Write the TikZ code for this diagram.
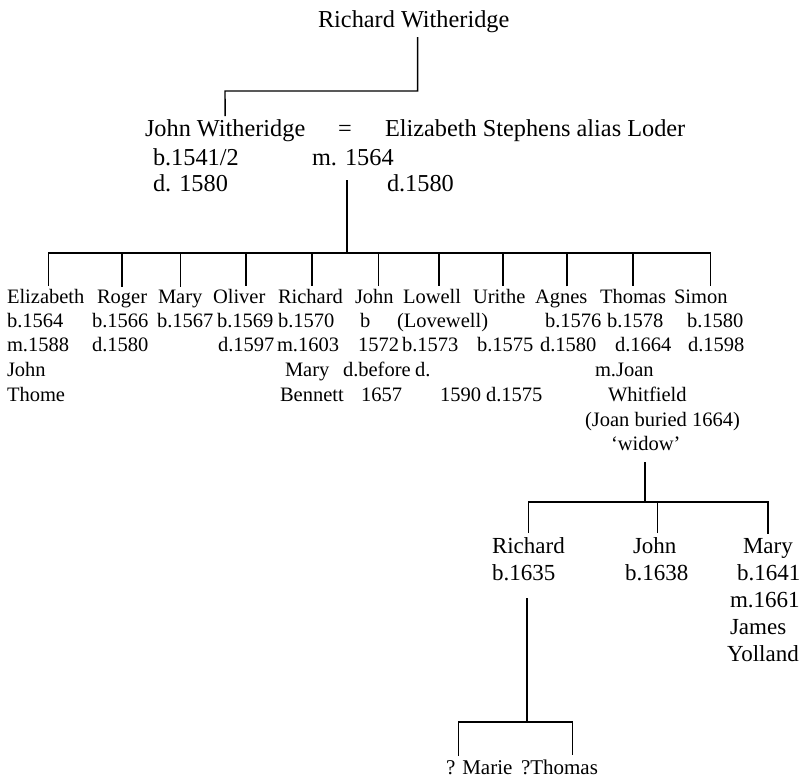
\documentclass[tikz,border=0pt]{standalone}
\usepackage{fontspec}
\setmainfont{Liberation Serif}
\begin{document}
\begin{tikzpicture}[x=1pt,y=-1pt,line width=1.4pt,
  txt/.style={inner sep=0pt,outer xsep=0pt,outer ysep=4pt,anchor=base west},
  elder/.style={txt,font=\fontsize{24.3}{28}\selectfont},
  kid/.style={txt,font=\fontsize{20.5}{24}\selectfont},
  grand/.style={txt,font=\fontsize{23}{27}\selectfont},
  great/.style={txt,font=\fontsize{21}{25}\selectfont}]
  \useasboundingbox (0,0) rectangle (804,778);

  % Richard and John's marriage
  \node[elder] (rw) at (318,28) {Richard Witheridge};
  \node[elder] (jw) at (145,137) {John Witheridge};
  \node[elder] (eq) at (338,137) {=};
  \node[elder] (es) at (385,137) {Elizabeth Stephens alias Loder};
  \node[elder] (jw-b) at (153,166) {b.1541/2};
  \node[elder] (marr) at (312,166) {m. 1564};
  \node[elder] (jw-d) at (153,192) {d. 1580};
  \node[elder] (es-d) at (387,192) {d.1580};

  % their children
  \node[kid] (elizabeth) at (7,304) {Elizabeth};
  \node[kid] (elizabeth-b) at (7,328) {b.1564};
  \node[kid] (elizabeth-m) at (7,352) {m.1588};
  \node[kid] (elizabeth-h1) at (7,377) {John};
  \node[kid] (elizabeth-h2) at (7,401) {Thome};
  \node[kid] (roger) at (97,304) {Roger};
  \node[kid] (roger-b) at (92,328) {b.1566};
  \node[kid] (roger-d) at (92,352) {d.1580};
  \node[kid] (mary) at (158,304) {Mary};
  \node[kid] (mary-b) at (157,328) {b.1567};
  \node[kid] (oliver) at (213,304) {Oliver};
  \node[kid] (oliver-b) at (217,328) {b.1569};
  \node[kid] (oliver-d) at (218,352) {d.1597};
  \node[kid] (richard) at (278,304) {Richard};
  \node[kid] (richard-b) at (278,328) {b.1570};
  \node[kid] (richard-m) at (277,352) {m.1603};
  \node[kid] (richard-w1) at (285,377) {Mary};
  \node[kid] (richard-w2) at (280,401) {Bennett};
  \node[kid] (john) at (355,304) {John};
  \node[kid] (john-b1) at (360,328) {b};
  \node[kid] (john-b2) at (358,352) {1572};
  \node[kid] (john-d1) at (343,377) {d.before};
  \node[kid] (john-d2) at (361,401) {1657};
  \node[kid] (lowell) at (403,304) {Lowell};
  \node[kid] (lowell-alt) at (397,328) {(Lovewell)};
  \node[kid] (lowell-b) at (402,352) {b.1573};
  \node[kid] (lowell-d1) at (415,377) {d.};
  \node[kid] (lowell-d2) at (440,401) {1590};
  \node[kid] (urithe) at (473,304) {Urithe};
  \node[kid] (urithe-b) at (477,352) {b.1575};
  \node[kid] (urithe-d) at (486,401) {d.1575};
  \node[kid] (agnes) at (535,304) {Agnes};
  \node[kid] (agnes-b) at (545,328) {b.1576};
  \node[kid] (agnes-d) at (540,352) {d.1580};
  \node[kid] (thomas) at (600,304) {Thomas};
  \node[kid] (thomas-b) at (607,328) {b.1578};
  \node[kid] (thomas-d) at (615,352) {d.1664};
  \node[kid] (thomas-m) at (595,377) {m.Joan};
  \node[kid] (thomas-w) at (608,401) {Whitfield};
  \node[kid] (joan) at (585,426) {(Joan buried 1664)};
  \node[kid] (widow) at (611,450) {`widow'};
  \node[kid] (simon) at (674,304) {Simon};
  \node[kid] (simon-b) at (687,328) {b.1580};
  \node[kid] (simon-d) at (688,352) {d.1598};

  % Thomas and Joan's children
  \node[grand] (richard2) at (492,553) {Richard};
  \node[grand] (richard2-b) at (492,580) {b.1635};
  \node[grand] (john2) at (633,553) {John};
  \node[grand] (john2-b) at (625,580) {b.1638};
  \node[grand] (mary2) at (743,553) {Mary};
  \node[grand] (mary2-b) at (737,580) {b.1641};
  \node[grand] (mary2-m) at (730,607) {m.1661};
  \node[grand] (mary2-h1) at (730,634) {James};
  \node[grand] (mary2-h2) at (727,661) {Yolland};

  \node[great] (marie) at (446,774) {? Marie};
  \node[great] (thomas3) at (521,774) {?Thomas};

  % lines of descent
  \coordinate (rbar) at (225,91);
  \draw ([xshift=4pt]rw.south) |- (rbar) -- (jw.north);

  \coordinate (kbar) at (347,253);
  \draw (marr.south -| kbar) ++(0,10) -- (kbar);
  \draw ([xshift=3pt]elizabeth.north) |- (kbar) -| ([xshift=10pt]simon.north);
  \draw (roger.north) |- (kbar);
  \draw (mary.north) |- (kbar);
  \draw ([xshift=7pt]oliver.north) |- (kbar);
  \draw ([xshift=1.5pt]richard.north) |- (kbar);
  \draw ([xshift=4pt]john.north) |- (kbar);
  \draw ([xshift=7pt]lowell.north) |- (kbar);
  \draw ([xshift=4pt]urithe.north) |- (kbar);
  \draw ([xshift=6pt]agnes.north) |- (kbar);
  \draw (thomas.north) |- (kbar);

  \coordinate (tbar) at (645,502);
  \draw (widow.south -| tbar) ++(0,8) -- (tbar);
  \draw (richard2.north) |- (tbar) -| (mary2.north);
  \draw ([xshift=3pt]john2.north) |- (tbar);

  \coordinate (gbar) at (527,722);
  \draw (richard2-b.south -| gbar) ++(0,14) -- (gbar);
  \draw ([xshift=-21pt]marie.north) |- (gbar) -| ([xshift=13pt]thomas3.north);
\end{tikzpicture}
\end{document}
